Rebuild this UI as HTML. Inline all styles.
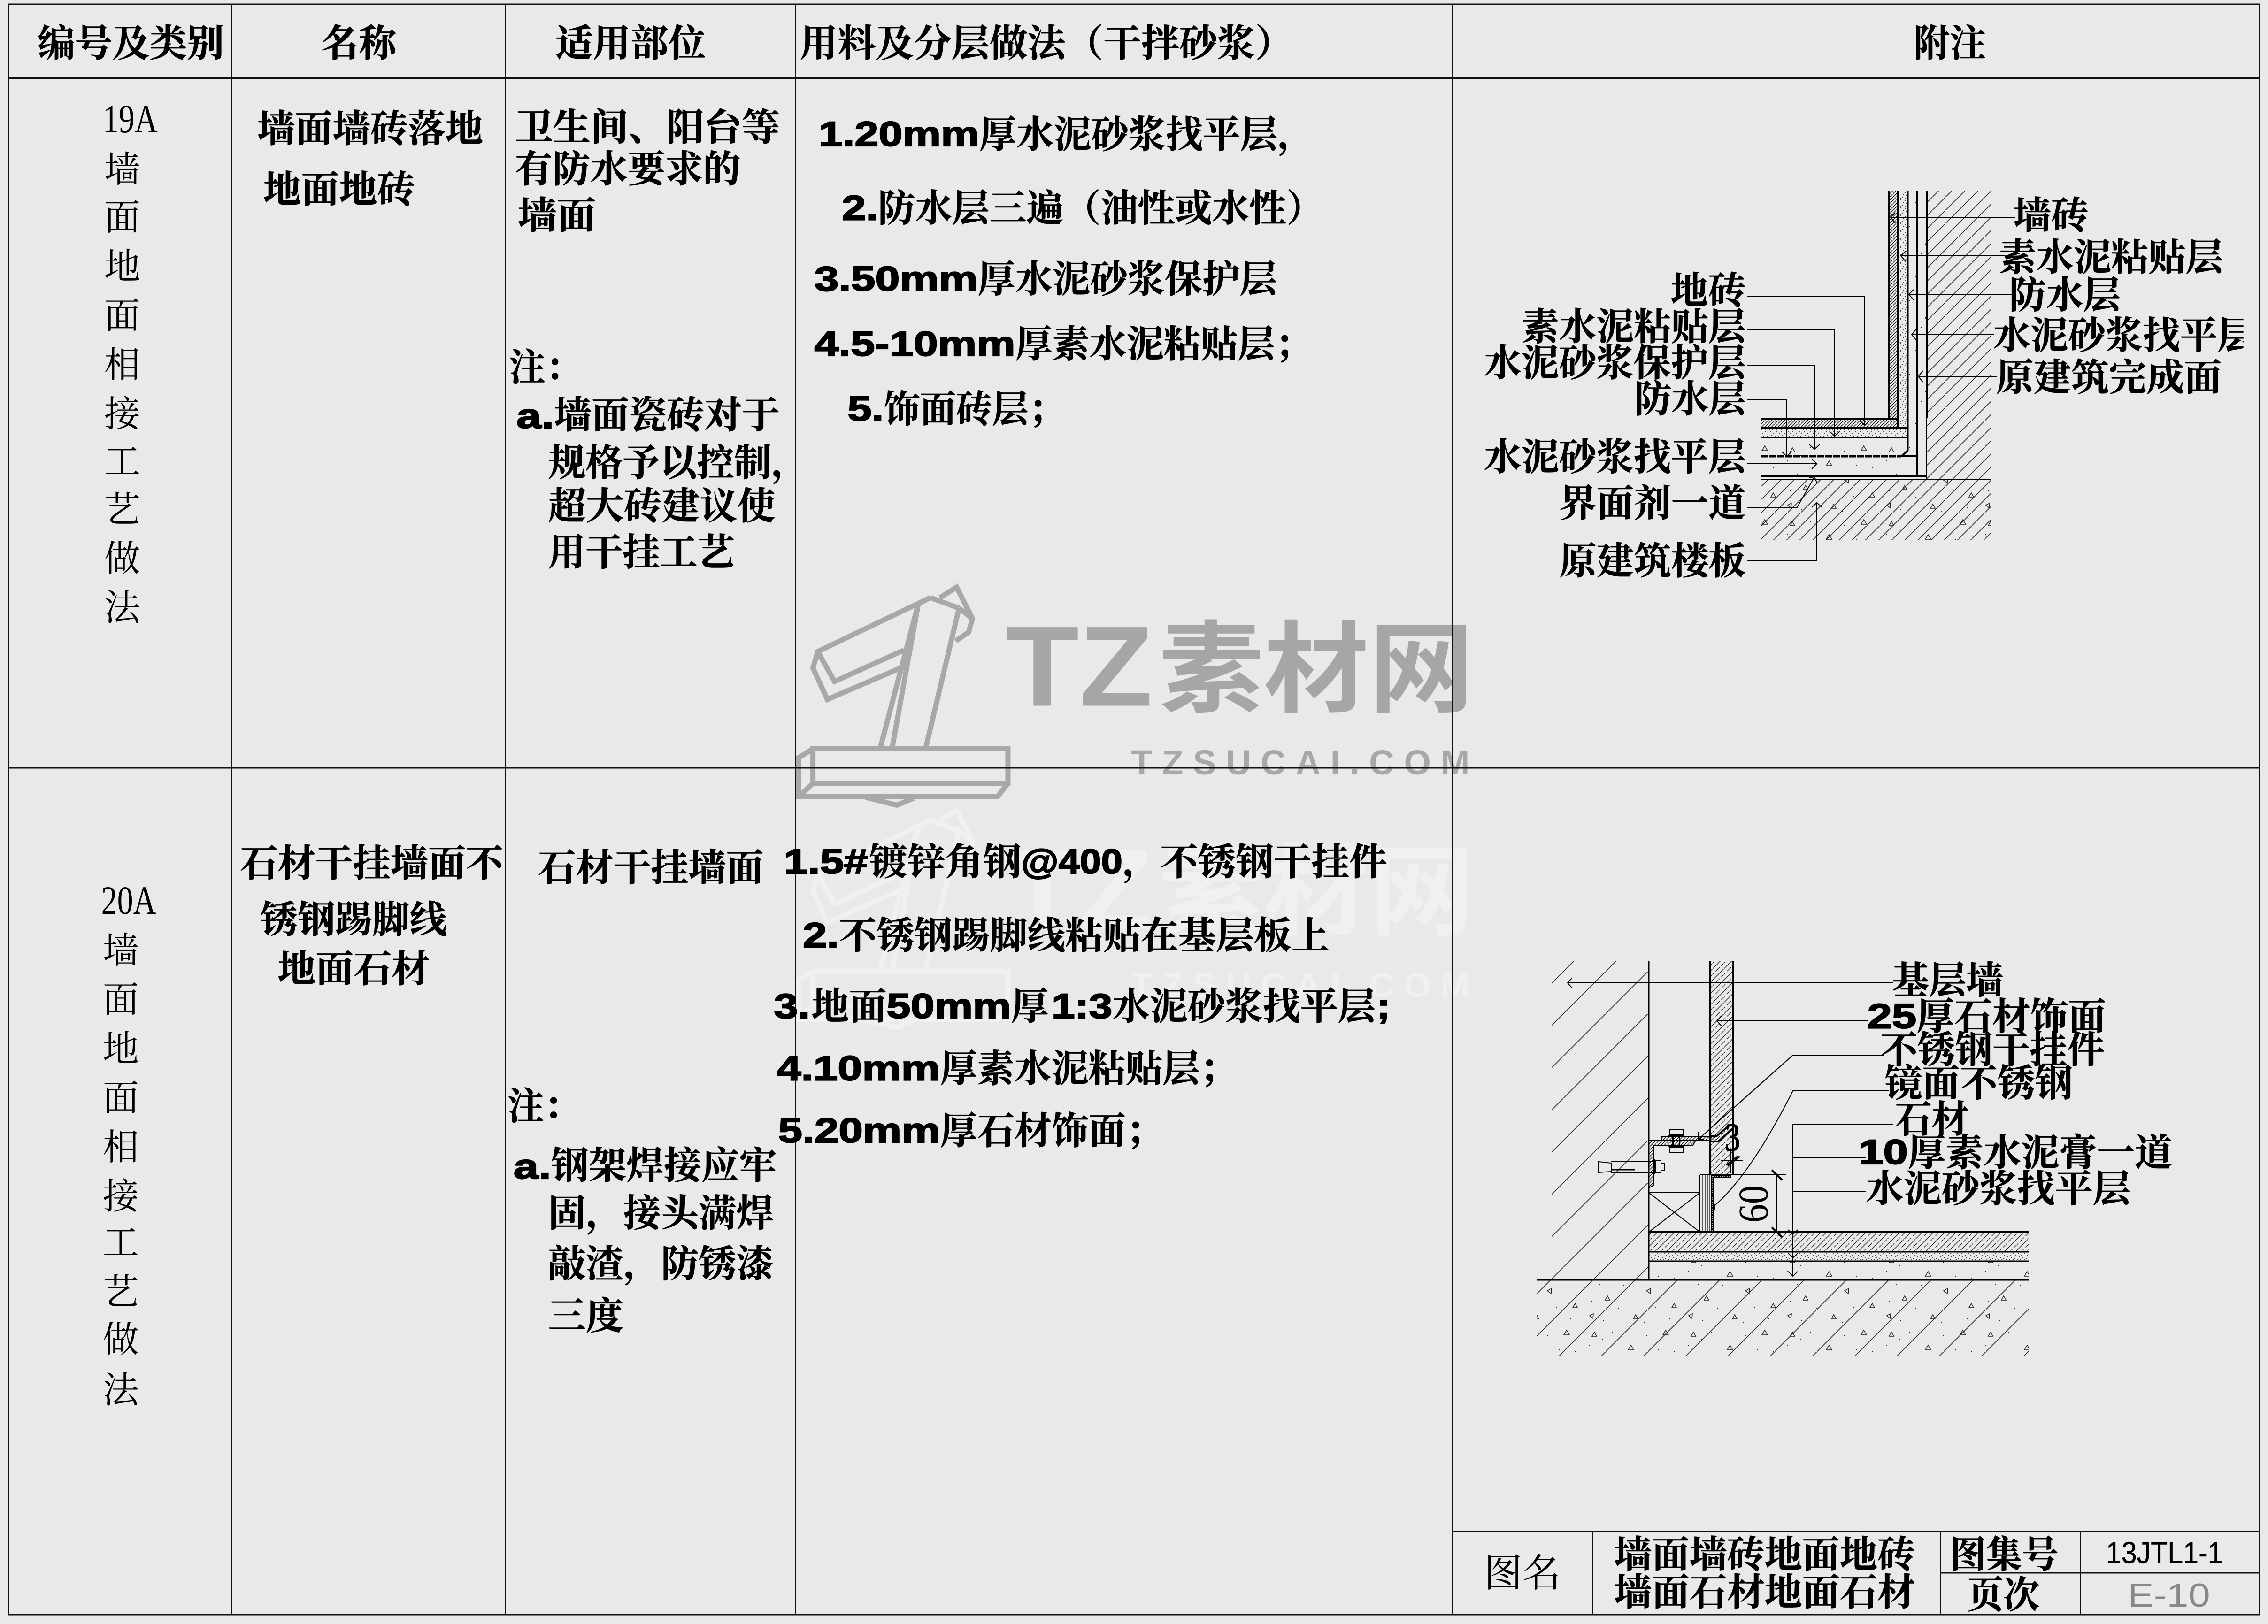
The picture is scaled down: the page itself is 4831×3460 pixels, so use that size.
<!DOCTYPE html>
<html><head><meta charset="utf-8"><title>墙面地面相接工艺做法</title>
<style>
html,body{margin:0;padding:0;background:#e9e9e9}
svg{display:block}
text{font-family:"Liberation Serif","Noto Serif CJK SC",serif;font-size:26px;font-weight:700;fill:#000;stroke:#000;stroke-width:.25px;white-space:pre}
.t{font-weight:400;font-size:25px;stroke:none}
.b{font-family:"Liberation Sans","Noto Sans CJK SC",sans-serif;font-weight:700;font-size:24px;stroke-width:.7px}
.w{font-family:"Noto Sans CJK SC","Liberation Sans",sans-serif;font-weight:700;stroke:none}
.n{stroke:none}
</style></head><body>
<svg xmlns="http://www.w3.org/2000/svg" width="4831" height="3460" viewBox="0 0 4831 3460">
<defs>
<pattern id="h28" width="28" height="28" patternUnits="userSpaceOnUse"><path d="M-2 30L30 -2" stroke="#222" stroke-width="1.6" fill="none"/></pattern>
<pattern id="h90" width="90" height="90" patternUnits="userSpaceOnUse"><path d="M-2 92L92 -2" stroke="#222" stroke-width="1.6" fill="none"/></pattern>
<pattern id="h7" width="7" height="7" patternUnits="userSpaceOnUse"><path d="M-1 8L8 -1" stroke="#111" stroke-width="1.4" fill="none"/></pattern>
<pattern id="st" width="24" height="24" patternUnits="userSpaceOnUse"><path d="M-2 26L26 -2" stroke="#222" stroke-width="1.4" fill="none"/><path d="M-2 14L14 -2M10 26L26 10" stroke="#222" stroke-width="1.4" stroke-dasharray="7 5" fill="none"/></pattern>
<pattern id="sd" width="24" height="17" patternUnits="userSpaceOnUse"><path d="M2 2h2M9 5h2M16 1h2M21 6h2M4 9h2M12 11h2M19 12h2M7 15h2M15 15h2M1 14h2" stroke="#111" stroke-width="1.6" fill="none"/></pattern>
<pattern id="cn" width="211" height="157" patternUnits="userSpaceOnUse"><g fill="none" stroke="#222" stroke-width="1.5"><path d="M20 12l5 9h-10zM98 40l6 10h-12zM172 8l6 10h-12zM48 92l5 9h-10zM140 76l-9 5 8 6zM190 108l5 9h-10zM18 130l-8 4 7 6zM108 132l5 9h-10z"/><path d="M8 40h2M36 28h2M58 12h2M130 20h2M190 54h2M30 68h2M82 70h2M155 50h2M14 104h2M70 118h2M150 116h2M180 140h2M38 144h2M125 148h2" stroke-width="2"/></g></pattern>
<g id="wm" fill="none" stroke-width="11" stroke-linejoin="miter" transform="translate(1650,1200) scale(1.0204,.6378)">
<path vector-effect="non-scaling-stroke" d="M325 115L90 295L125 395L270 290M90 295L80 350L110 455L270 345M325 115L300 135L220 620M385 150L315 620M325 115L385 150M345 115L380 80L413 185L405 230L378 260M385 150L413 185M300 135L245 620"/>
<path vector-effect="non-scaling-stroke" d="M80 620H487V735H80ZM80 620L50 650V780H465L487 735M50 780L80 735M190 782L255 808L290 785"/>
</g>
<clipPath id="cl"><rect x="1370" y="200" width="181" height="60"/></clipPath>
</defs>
<rect width="4831" height="3460" fill="#e9e9e9"/>

<!-- watermarks -->
<use href="#wm" stroke="#a8a8a8"/>
<g transform="translate(0,474)"><use href="#wm" stroke="#f0f0f0"/></g>
<g transform="scale(3.081)">
<text class="b n" x="695" y="488" style="font-size:79px;fill:#a6a6a6;stroke:none" textLength="102" lengthAdjust="spacingAndGlyphs">TZ</text>
<text class="w" x="801" y="487" style="font-size:69px;fill:#a6a6a6" textLength="218" lengthAdjust="spacingAndGlyphs">素材网</text>
<text class="b n" x="782" y="535.5" style="font-size:24px;fill:#a8a8a8;stroke:none" textLength="234" lengthAdjust="spacing">TZSUCAI.COM</text>
<text class="b n" x="695" y="642" style="font-size:79px;fill:#f0f0f0;stroke:none" textLength="102" lengthAdjust="spacingAndGlyphs">TZ</text>
<text class="w" x="801" y="641" style="font-size:69px;fill:#f0f0f0" textLength="218" lengthAdjust="spacingAndGlyphs">素材网</text>
<text class="b n" x="782" y="689.5" style="font-size:24px;fill:#f0f0f0;stroke:none" textLength="234" lengthAdjust="spacing">TZSUCAI.COM</text>
</g>

<!-- table grid -->
<g stroke="#111" fill="none">
<path d="M18 9V3440M493 9V3440M1076 9V3440M1695 9V3440M3094 9V3440" stroke-width="2"/>
<path d="M4813 9V3440" stroke-width="3"/>
<path d="M18 9H4813" stroke-width="3"/>
<path d="M18 167H4813" stroke-width="4"/>
<path d="M18 1636H4813" stroke-width="3"/>
<path d="M18 3440H4813" stroke-width="3"/>
<path d="M3094 3263H4813" stroke-width="3"/>
<path d="M4133 3351H4813" stroke-width="3"/>
<path d="M3393 3263V3440M4133 3263V3440M4431 3263V3440" stroke-width="2"/>
</g>

<!-- Diagram 1 -->
<rect x="4104" y="407" width="137" height="614" fill="url(#h28)"/>
<rect x="3752" y="1021" width="489" height="129" fill="url(#h28)"/>
<rect x="3752" y="1021" width="489" height="129" fill="url(#cn)"/>
<rect x="4023" y="407" width="19" height="485" fill="url(#h7)"/>
<rect x="3752" y="892" width="290" height="20" fill="url(#h7)"/>
<rect x="4042" y="407" width="21" height="505" fill="url(#sd)"/>
<rect x="3752" y="912" width="311" height="20" fill="url(#sd)"/>
<rect x="3752" y="932" width="311" height="40" fill="url(#cn)"/>
<rect x="3752" y="972" width="332" height="42" fill="url(#cn)"/>
<rect x="4063" y="407" width="41" height="565" fill="url(#cn)"/>
<g stroke="#000" fill="none" stroke-width="4">
<path d="M3752 892H4042M3752 912H4063M3752 932H4063M4050 972H4084M3752 1014H4105"/>
<path d="M3752 972H4050" stroke-dasharray="14 3" stroke-width="5"/>
<path d="M4023 407V892M4042.5 407V912M4063.5 407V960L4050 972M4084 407V1014M4104 407V890"/>
<path d="M4104 890V1021M3752 1021H4241" stroke-width="2"/>
</g>
<g stroke="#000" fill="none" stroke-width="2">
<path d="M4292 463H4027M4037 453L4027 463L4037 475"/>
<path d="M4270 545H4049M4059 535L4049 545L4059 557"/>
<path d="M4287 627H4066M4076 617L4066 627L4076 639"/>
<path d="M4248 713H4072M4082 701L4072 713L4082 725"/>
<path d="M4254 802H4086M4096 790L4086 802L4096 814"/>
<path d="M3722 631H3972V906M3961 896L3972 906L3983 896"/>
<path d="M3722 702H3908V929M3897 919L3908 929L3919 919"/>
<path d="M3722 778H3865V957M3854 947L3865 957L3876 947"/>
<path d="M3722 851H3806V972M3795 962L3806 972L3817 962"/>
<path d="M3722 988H3870M3859 977L3870 988L3859 999"/>
<path d="M3722 1081H3828L3865 1016M3853 1018L3865 1016L3870 1028"/>
<path d="M3722 1195H3870V1071M3859 1081L3870 1071L3881 1081"/>
</g>

<!-- Diagram 2 -->
<rect x="3306" y="2048" width="206" height="679" fill="url(#h90)"/>
<rect x="3274" y="2727" width="1047" height="163" fill="url(#h90)"/>
<rect x="3274" y="2727" width="1047" height="163" fill="url(#cn)"/>
<rect x="3642" y="2048" width="50" height="455" fill="url(#st)"/>
<rect x="3512" y="2625" width="809" height="42" fill="url(#st)"/>
<rect x="3512" y="2667" width="809" height="20" fill="url(#sd)"/>
<rect x="3512" y="2687" width="809" height="40" fill="url(#cn)"/>
<g stroke="#000" fill="none">
<path d="M3512 2048V2727" stroke-width="3"/>
<path d="M3274 2727H4321" stroke-width="3"/>
<path d="M3510 2625H4321" stroke-width="4"/>
<path d="M3510 2667H4321M3510 2687H4321" stroke-width="3"/>
<path d="M3642 2048V2503M3692 2048V2503" stroke-width="4"/>
<path d="M3621 2503H3805" stroke-width="2"/>
<path d="M3512 2541H3621M3621 2503V2625M3512 2541L3621 2625M3621 2541L3512 2625" stroke-width="2"/>
<path d="M3627 2503V2625M3632 2503V2625M3637 2503V2625M3642 2503V2625" stroke-width="1.2"/>
<path d="M3648 2505V2625" stroke-width="8"/>
<path d="M3645 2507H3687" stroke-width="6"/>
<path d="M3648 2505V2625M3648 2507H3687" stroke="#bbb" stroke-width="2" stroke-dasharray="2 3"/>
<rect x="3512" y="2430" width="96" height="10" fill="url(#h7)" stroke="none"/>
<rect x="3512" y="2430" width="10" height="100" fill="url(#h7)" stroke="none"/>
<rect x="3540" y="2422" width="116" height="8" fill="url(#h7)" stroke="none"/>
<path d="M3512 2430H3612L3606 2440H3522V2525L3512 2531" stroke-width="2"/>
<path d="M3540 2430V2422H3642M3540 2430H3642" stroke-width="2"/>
<path d="M3642 2421H3656L3683 2398M3642 2432H3660L3690 2405" stroke-width="4"/>
<path d="M3556 2407H3585V2418H3556ZM3553 2419H3588M3556 2444H3585V2455H3556ZM3553 2443H3588" stroke-width="2"/>
<path d="M3563 2418V2444" stroke-width="4"/>
<path d="M3577 2418V2444" stroke-width="2"/>
<path d="M3405 2475L3432 2478V2496L3405 2498ZM3432 2475H3522M3432 2498H3522" stroke-width="2"/>
<path d="M3432 2492H3482" stroke-width="3"/>
<path d="M3432 2480H3482" stroke-width="2" stroke="#666"/>
<path d="M3524 2470V2502" stroke-width="3"/>
<path d="M3526 2473H3538V2499H3526ZM3538 2478H3546V2494H3538Z" stroke-width="2"/>
<path d="M3686.500 2450V2500M3665 2472H3713" stroke-width="2"/>
<path d="M3677 2482L3703 2462M3680 2484L3706 2464" stroke-width="3"/>
<path d="M3785 2503V2625" stroke-width="2"/>
<path d="M3774 2493L3796 2514M3774 2615L3796 2636" stroke-width="4"/>
</g>
<g stroke="#000" fill="none" stroke-width="2">
<path d="M4032 2094H3339M3349 2083L3339 2094L3349 2105"/>
<path d="M3980 2175H3657M3667 2164L3657 2175L3667 2186"/>
<path d="M4013 2248H3819L3618 2427M3618 2412V2428H3630"/>
<path d="M4023 2324H3819Q3730 2500 3654 2567M3652 2565V2578"/>
<path d="M4032 2396H3819V2719M3809 2620L3819 2630L3829 2620M3809 2670L3819 2680L3829 2670M3809 2709L3819 2719L3829 2709"/>
<path d="M3975 2467H3819M3975 2538H3819"/>
</g>
<text x="3674" y="2451" style="font-size:85px;font-weight:400;stroke-width:1.5px" textLength="33" lengthAdjust="spacingAndGlyphs">3</text>
<text transform="translate(3765,2605) rotate(-90)" x="0" y="0" style="font-size:90px;font-weight:400;stroke:none" textLength="80" lengthAdjust="spacingAndGlyphs">60</text>

<!-- text in preview coordinates -->
<g transform="scale(3.081)">
<!-- header -->
<text x="26" y="39" textLength="129" lengthAdjust="spacingAndGlyphs">编号及类别</text>
<text x="222" y="39" textLength="52" lengthAdjust="spacingAndGlyphs">名称</text>
<text x="384" y="39" textLength="104" lengthAdjust="spacingAndGlyphs">适用部位</text>
<text x="553" y="39" textLength="341" lengthAdjust="spacingAndGlyphs">用料及分层做法（干拌砂浆）</text>
<text x="1323" y="39" textLength="50" lengthAdjust="spacingAndGlyphs">附注</text>

<!-- col 1 -->
<text class="t" x="71" y="91.500" style="font-size:28px" textLength="38" lengthAdjust="spacingAndGlyphs">19A</text>
<text class="t" x="72" y="126">墙</text><text class="t" x="72" y="159">面</text><text class="t" x="72" y="193">地</text><text class="t" x="72" y="227">面</text><text class="t" x="72" y="261">相</text><text class="t" x="72" y="295">接</text><text class="t" x="72" y="328">工</text><text class="t" x="72" y="361">艺</text><text class="t" x="72" y="395">做</text><text class="t" x="72" y="429">法</text>
<text class="t" x="70" y="632" style="font-size:28px" textLength="38" lengthAdjust="spacingAndGlyphs">20A</text>
<text class="t" x="71" y="666">墙</text><text class="t" x="71" y="700">面</text><text class="t" x="71" y="734">地</text><text class="t" x="71" y="768">面</text><text class="t" x="71" y="802">相</text><text class="t" x="71" y="836">接</text><text class="t" x="71" y="868">工</text><text class="t" x="71" y="902">艺</text><text class="t" x="71" y="935">做</text><text class="t" x="71" y="970">法</text>

<!-- col 2 -->
<text x="178" y="98" textLength="156" lengthAdjust="spacingAndGlyphs">墙面墙砖落地</text>
<text x="182" y="140" textLength="105" lengthAdjust="spacingAndGlyphs">地面地砖</text>
<text x="166" y="606" textLength="182" lengthAdjust="spacingAndGlyphs">石材干挂墙面不</text>
<text x="180" y="645" textLength="129" lengthAdjust="spacingAndGlyphs">锈钢踢脚线</text>
<text x="192" y="679" textLength="105" lengthAdjust="spacingAndGlyphs">地面石材</text>

<!-- col 3 -->
<text x="356" y="97" textLength="183" lengthAdjust="spacingAndGlyphs">卫生间、阳台等</text>
<text x="356" y="126" textLength="156" lengthAdjust="spacingAndGlyphs">有防水要求的</text>
<text x="358" y="158" textLength="54" lengthAdjust="spacingAndGlyphs">墙面</text>
<text x="352" y="263" textLength="50" lengthAdjust="spacingAndGlyphs">注：</text>
<text class="b" x="357" y="296" textLength="26" lengthAdjust="spacingAndGlyphs">a.</text>
<text x="383" y="296" textLength="156" lengthAdjust="spacingAndGlyphs">墙面瓷砖对于</text>
<text x="379" y="329" textLength="180" lengthAdjust="spacingAndGlyphs">规格予以控制，</text>
<text x="379" y="359" textLength="157" lengthAdjust="spacingAndGlyphs">超大砖建议使</text>
<text x="379" y="391" textLength="129" lengthAdjust="spacingAndGlyphs">用干挂工艺</text>
<text x="372" y="609" textLength="156" lengthAdjust="spacingAndGlyphs">石材干挂墙面</text>
<text x="351" y="774" textLength="50" lengthAdjust="spacingAndGlyphs">注：</text>
<text class="b" x="355" y="815" textLength="26" lengthAdjust="spacingAndGlyphs">a.</text>
<text x="381" y="815" textLength="156" lengthAdjust="spacingAndGlyphs">钢架焊接应牢</text>
<text x="379" y="848" textLength="156" lengthAdjust="spacingAndGlyphs">固，接头满焊</text>
<text x="379" y="883" textLength="156" lengthAdjust="spacingAndGlyphs">敲渣，防锈漆</text>
<text x="379" y="919" textLength="52" lengthAdjust="spacingAndGlyphs">三度</text>

<!-- col 4 row 1 -->
<text class="b" x="566" y="101" textLength="111" lengthAdjust="spacingAndGlyphs">1.20mm</text>
<text x="677" y="102" textLength="232" lengthAdjust="spacingAndGlyphs">厚水泥砂浆找平层，</text>
<text class="b" x="582" y="152" textLength="25" lengthAdjust="spacingAndGlyphs">2.</text>
<text x="607" y="153" textLength="308" lengthAdjust="spacingAndGlyphs">防水层三遍（油性或水性）</text>
<text class="b" x="563" y="201" textLength="113" lengthAdjust="spacingAndGlyphs">3.50mm</text>
<text x="676" y="202" textLength="207" lengthAdjust="spacingAndGlyphs">厚水泥砂浆保护层</text>
<text class="b" x="563" y="246" textLength="139" lengthAdjust="spacingAndGlyphs">4.5-10mm</text>
<text x="702" y="247" textLength="205" lengthAdjust="spacingAndGlyphs">厚素水泥粘贴层；</text>
<text class="b" x="586" y="291" textLength="25" lengthAdjust="spacingAndGlyphs">5.</text>
<text x="611" y="292" textLength="125" lengthAdjust="spacingAndGlyphs">饰面砖层；</text>

<!-- col 4 row 2 -->
<text class="b" x="542" y="604" textLength="58" lengthAdjust="spacingAndGlyphs">1.5#</text>
<text x="601" y="605" textLength="105" lengthAdjust="spacingAndGlyphs">镀锌角钢</text>
<text class="b" x="706" y="604" textLength="70" lengthAdjust="spacingAndGlyphs">@400</text>
<text x="776" y="605" textLength="183" lengthAdjust="spacingAndGlyphs">，不锈钢干挂件</text>
<text class="b" x="555" y="655" textLength="25" lengthAdjust="spacingAndGlyphs">2.</text>
<text x="580" y="656" textLength="339" lengthAdjust="spacingAndGlyphs">不锈钢踢脚线粘贴在基层板上</text>
<text class="b" x="535" y="704" textLength="25" lengthAdjust="spacingAndGlyphs">3.</text>
<text x="561" y="705" textLength="52" lengthAdjust="spacingAndGlyphs">地面</text>
<text class="b" x="613" y="704" textLength="86" lengthAdjust="spacingAndGlyphs">50mm</text>
<text x="699" y="705" textLength="26" lengthAdjust="spacingAndGlyphs">厚</text>
<text class="b" x="727" y="704" textLength="42" lengthAdjust="spacingAndGlyphs">1:3</text>
<text x="769" y="705" textLength="182" lengthAdjust="spacingAndGlyphs">水泥砂浆找平层</text>
<text class="b" x="952" y="704" textLength="9" lengthAdjust="spacingAndGlyphs">;</text>
<text class="b" x="537" y="747" textLength="113" lengthAdjust="spacingAndGlyphs">4.10mm</text>
<text x="650" y="748" textLength="205" lengthAdjust="spacingAndGlyphs">厚素水泥粘贴层；</text>
<text class="b" x="538" y="790" textLength="112" lengthAdjust="spacingAndGlyphs">5.20mm</text>
<text x="650" y="791" textLength="154" lengthAdjust="spacingAndGlyphs">厚石材饰面；</text>

<!-- diagram 1 labels -->
<text x="1392" y="158" textLength="52" lengthAdjust="spacingAndGlyphs">墙砖</text>
<text x="1382" y="187" textLength="155" lengthAdjust="spacingAndGlyphs">素水泥粘贴层</text>
<text x="1389" y="213" textLength="77" lengthAdjust="spacingAndGlyphs">防水层</text>
<text clip-path="url(#cl)" x="1378" y="241" textLength="181" lengthAdjust="spacingAndGlyphs">水泥砂浆找平层</text>
<text x="1380" y="270" textLength="156" lengthAdjust="spacingAndGlyphs">原建筑完成面</text>
<text x="1155" y="210" textLength="52" lengthAdjust="spacingAndGlyphs">地砖</text>
<text x="1052" y="235" textLength="155" lengthAdjust="spacingAndGlyphs">素水泥粘贴层</text>
<text x="1026" y="260" textLength="181" lengthAdjust="spacingAndGlyphs">水泥砂浆保护层</text>
<text x="1130" y="285" textLength="77" lengthAdjust="spacingAndGlyphs">防水层</text>
<text x="1026" y="325" textLength="181" lengthAdjust="spacingAndGlyphs">水泥砂浆找平层</text>
<text x="1078" y="357" textLength="129" lengthAdjust="spacingAndGlyphs">界面剂一道</text>
<text x="1078" y="397" textLength="129" lengthAdjust="spacingAndGlyphs">原建筑楼板</text>

<!-- diagram 2 labels -->
<text x="1308" y="687" textLength="77" lengthAdjust="spacingAndGlyphs">基层墙</text>
<text class="b" x="1291" y="711" textLength="34" lengthAdjust="spacingAndGlyphs">25</text>
<text x="1325" y="712" textLength="131" lengthAdjust="spacingAndGlyphs">厚石材饰面</text>
<text x="1300" y="735" textLength="155" lengthAdjust="spacingAndGlyphs">不锈钢干挂件</text>
<text x="1303" y="758" textLength="130" lengthAdjust="spacingAndGlyphs">镜面不锈钢</text>
<text x="1310" y="783" textLength="51" lengthAdjust="spacingAndGlyphs">石材</text>
<text class="b" x="1285" y="805" textLength="34" lengthAdjust="spacingAndGlyphs">10</text>
<text x="1319" y="806" textLength="183" lengthAdjust="spacingAndGlyphs">厚素水泥膏一道</text>
<text x="1290" y="831" textLength="183" lengthAdjust="spacingAndGlyphs">水泥砂浆找平层</text>

<!-- title block -->
<text class="t" x="1026" y="1097" style="font-size:27px" textLength="53" lengthAdjust="spacingAndGlyphs">图名</text>
<text x="1116" y="1084" textLength="208" lengthAdjust="spacingAndGlyphs">墙面墙砖地面地砖</text>
<text x="1116" y="1110" textLength="208" lengthAdjust="spacingAndGlyphs">墙面石材地面石材</text>
<text x="1348" y="1084" textLength="75" lengthAdjust="spacingAndGlyphs">图集号</text>
<text x="1360" y="1112" textLength="50" lengthAdjust="spacingAndGlyphs">页次</text>
<text x="1456" y="1081" style="font-family:'Liberation Sans',sans-serif;font-size:21px;font-weight:400;stroke-width:.15px" textLength="81" lengthAdjust="spacingAndGlyphs">13JTL1-1</text>
<text x="1471" y="1111" style="font-family:'Liberation Sans',sans-serif;font-size:23px;font-weight:400;fill:#888;stroke:none" textLength="57" lengthAdjust="spacingAndGlyphs">E-10</text>
</g>
</svg>
</body></html>
